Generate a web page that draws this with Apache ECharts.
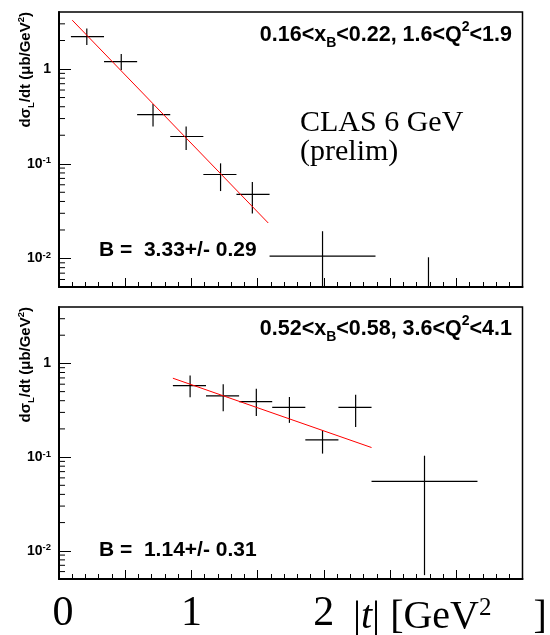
<!DOCTYPE html>
<html>
<head>
<meta charset="utf-8">
<title>CLAS 6 GeV dsigma_L/dt</title>
<script src="https://cdn.jsdelivr.net/npm/echarts@6/dist/echarts.min.js"></script>
<style>
html,body{margin:0;padding:0;background:#fff;}
#main{width:550px;height:635px;}
</style>
</head>
<body>
<div id="main"></div>
<script>
// upper panel: 0.16<xB<0.22, 1.6<Q2<1.9
var tTop   = [0.21, 0.47, 0.71, 0.96, 1.22, 1.46, 1.99, 2.79];
var tLoTop = [0.09, 0.34, 0.59, 0.84, 1.09, 1.34, 1.59, 2.39];
var tHiTop = [0.34, 0.59, 0.84, 1.09, 1.34, 1.59, 2.39, 3.19];
var yTop   = [2.20, 1.20, 0.330, 0.194, 0.077, 0.0475, 0.0106, 0.003];
var yLoTop = [1.79, 0.976, 0.247, 0.140, 0.0515, 0.0298, 0.001, 0.001];
var yHiTop = [2.68, 1.44, 0.428, 0.247, 0.101, 0.064, 0.0194, 0.0103];
var fitTTop = [0.10, 1.58];
var fitYTop = [3.28, 0.0237];

// lower panel: 0.52<xB<0.58, 3.6<Q2<4.1
var tBot   = [0.99, 1.24, 1.49, 1.74, 1.99, 2.24, 2.76];
var tLoBot = [0.86, 1.11, 1.36, 1.61, 1.86, 2.11, 2.36];
var tHiBot = [1.11, 1.36, 1.61, 1.86, 2.11, 2.36, 3.16];
var yBot   = [0.58, 0.45, 0.39, 0.34, 0.153, 0.34, 0.055];
var yLoBot = [0.435, 0.309, 0.274, 0.232, 0.109, 0.209, 0.0055];
var yHiBot = [0.741, 0.600, 0.535, 0.438, 0.193, 0.463, 0.1035];
var fitTBot = [0.86, 2.36];
var fitYBot = [0.695, 0.1265];

// log axis minor ticks
var logMinor = [0.006, 0.007, 0.008, 0.009,
    0.02, 0.03, 0.04, 0.05, 0.06, 0.07, 0.08, 0.09,
    0.2, 0.3, 0.4, 0.5, 0.6, 0.7, 0.8, 0.9, 2, 3];

var sans = 'Liberation Sans';
var serif = 'Liberation Serif';

function pts(t, tl, th, y, yl, yh){
    var out = [];
    for (var i = 0; i < t.length; i++) {
        out.push([t[i], y[i], tl[i], th[i], yl[i], yh[i]]);
    }
    return out;
}
function pairs(a, b){
    var out = [];
    for (var i = 0; i < a.length; i++) out.push([a[i], b[i]]);
    return out;
}

function crossItem(params, api){
    var t = api.value(0), y = api.value(1);
    var a = api.coord([api.value(2), y]);
    var b = api.coord([api.value(3), y]);
    var c = api.coord([t, api.value(4)]);
    var d = api.coord([t, api.value(5)]);
    var st = {stroke: '#000', lineWidth: 1.2};
    return {type: 'group', children: [
        {type: 'line', shape: {x1: a[0], y1: a[1], x2: b[0], y2: b[1]}, style: st},
        {type: 'line', shape: {x1: c[0], y1: c[1], x2: d[0], y2: d[1]}, style: st}
    ]};
}
function minorItem(params, api){
    var p = api.coord([api.value(0), api.value(1)]);
    return {type: 'line', shape: {x1: p[0], y1: p[1], x2: p[0] + 6, y2: p[1]},
        style: {stroke: '#000', lineWidth: 1}};
}

function yLab(v){
    var e = Math.round(Math.log(v) / Math.LN10);
    if (Math.abs(v - Math.pow(10, e)) > 1e-6 * Math.pow(10, e)) return '';
    if (e == 0) return '1';
    if (e < 0 && e >= -2) return '10{s|' + e + '}';
    return '';
}
function xLab(v){
    if (v == 0) return '{z|0}';
    if (v == 1) return '1';
    if (v == 2) return '2';
    return '';
}

function xAxisOf(idx, labels){
    return {
        type: 'value', gridIndex: idx, min: 0, max: 3.5, interval: 0.5,
        axisLine: {onZero: false, lineStyle: {color: '#000', width: 2}},
        axisTick: {inside: true, length: 9, lineStyle: {color: '#000', width: 1}},
        minorTick: {show: true, splitNumber: 5, length: 5, lineStyle: {color: '#000', width: 1}},
        splitLine: {show: false},
        axisLabel: {
            show: labels, formatter: xLab, margin: 14, color: '#000',
            fontFamily: serif, fontSize: 42,
            rich: {z: {fontFamily: serif, fontSize: 42, color: '#000', padding: [0, 0, 0, 8]}}
        }
    };
}
function yAxisOf(idx){
    return {
        type: 'log', logBase: 10, gridIndex: idx, min: 0.005, max: 4,
        axisLine: {lineStyle: {color: '#000', width: 2}},
        axisTick: {inside: true, length: 12, lineStyle: {color: '#000', width: 1}},
        splitLine: {show: false},
        axisLabel: {
            formatter: yLab, margin: 8, color: '#000', showMinLabel: false, showMaxLabel: false,
            fontFamily: sans, fontWeight: 'bold', fontSize: 14, lineHeight: 16,
            rich: {s: {fontFamily: sans, fontWeight: 'bold', fontSize: 9.5, verticalAlign: 'top', lineHeight: 9, color: '#000'}}
        }
    };
}

function hdr(text, y){
    return {
        type: 'text', x: 512, y: y,
        style: {
            text: text, fill: '#000', font: 'bold 21.5px ' + sans,
            align: 'right', textAlign: 'right', verticalAlign: 'middle', textVerticalAlign: 'middle',
            lineHeight: 30,
            rich: {
                sub: {fontFamily: sans, fontWeight: 'bold', fontSize: 14, verticalAlign: 'bottom', lineHeight: 14},
                sup: {fontFamily: sans, fontWeight: 'bold', fontSize: 14, verticalAlign: 'top', lineHeight: 14}
            }
        }
    };
}
function bText(text, y){
    return {
        type: 'text', x: 99, y: y,
        style: {text: text, fill: '#000', font: 'bold 21px ' + sans,
            align: 'left', textAlign: 'left', verticalAlign: 'middle', textVerticalAlign: 'middle'}
    };
}
function yTitle(y){
    return {
        type: 'text', x: 26, y: y, rotation: Math.PI / 2,
        style: {
            text: 'd\u03c3{sub|L}/dt (\u03bcb/GeV{sup|2})', fill: '#000', font: 'bold 15px ' + sans,
            align: 'right', textAlign: 'right', verticalAlign: 'middle', textVerticalAlign: 'middle',
            lineHeight: 20,
            rich: {
                sub: {fontFamily: sans, fontWeight: 'bold', fontSize: 9.5, verticalAlign: 'bottom', lineHeight: 9},
                sup: {fontFamily: sans, fontWeight: 'bold', fontSize: 9.5, verticalAlign: 'top', lineHeight: 9}
            }
        }
    };
}

var myChart = echarts.init(document.getElementById('main'));
var option = {
    animation: false,
    backgroundColor: '#fff',
    grid: [
        {left: 59, top: 12, width: 463.5, height: 275, show: true, borderColor: '#000', borderWidth: 1.5},
        {left: 59, top: 307, width: 463.5, height: 276, show: true, borderColor: '#000', borderWidth: 1.5}
    ],
    xAxis: [xAxisOf(0, false), xAxisOf(1, true)],
    yAxis: [yAxisOf(0), yAxisOf(1)],
    series: [
        {type: 'custom', xAxisIndex: 0, yAxisIndex: 0, clip: true, renderItem: crossItem,
            encode: {x: [0, 2, 3], y: [1, 4, 5]}, data: pts(tTop, tLoTop, tHiTop, yTop, yLoTop, yHiTop)},
        {type: 'custom', xAxisIndex: 1, yAxisIndex: 1, clip: true, renderItem: crossItem,
            encode: {x: [0, 2, 3], y: [1, 4, 5]}, data: pts(tBot, tLoBot, tHiBot, yBot, yLoBot, yHiBot)},
        {type: 'line', xAxisIndex: 0, yAxisIndex: 0, data: pairs(fitTTop, fitYTop), showSymbol: false,
            lineStyle: {color: '#ff0000', width: 1}},
        {type: 'line', xAxisIndex: 1, yAxisIndex: 1, data: pairs(fitTBot, fitYBot), showSymbol: false,
            lineStyle: {color: '#ff0000', width: 1}},
        {type: 'custom', xAxisIndex: 0, yAxisIndex: 0, renderItem: minorItem,
            encode: {x: 0, y: 1}, data: logMinor.map(function(v){ return [0, v]; })},
        {type: 'custom', xAxisIndex: 1, yAxisIndex: 1, renderItem: minorItem,
            encode: {x: 0, y: 1}, data: logMinor.map(function(v){ return [0, v]; })}
    ],
    graphic: [
        hdr('0.16<x{sub|B}<0.22, 1.6<Q{sup|2}<1.9', 35),
        hdr('0.52<x{sub|B}<0.58, 3.6<Q{sup|2}<4.1', 329),
        bText('B =  3.33+/- 0.29', 250.5),
        bText('B =  1.14+/- 0.31', 550.5),
        yTitle(12),
        yTitle(307),
        {type: 'text', x: 300, y: 108.5,
            style: {text: 'CLAS 6 GeV\n(prelim)', fill: '#000', font: '30px ' + serif, lineHeight: 29,
                align: 'left', textAlign: 'left', verticalAlign: 'top', textVerticalAlign: 'top'}},
        {type: 'text', x: 353, y: 617,
            style: {
                text: '|{it|t}| [GeV{sup|2}{gap|}]', fill: '#000', font: '40px ' + serif,
                align: 'left', textAlign: 'left', verticalAlign: 'middle', textVerticalAlign: 'middle',
                lineHeight: 42,
                rich: {
                    it: {fontFamily: serif, fontSize: 40, fontStyle: 'italic'},
                    sup: {fontFamily: serif, fontSize: 25, verticalAlign: 'top', lineHeight: 25},
                    gap: {width: 42}
                }
            }}
    ]
};
myChart.setOption(option);
</script>
</body>
</html>
